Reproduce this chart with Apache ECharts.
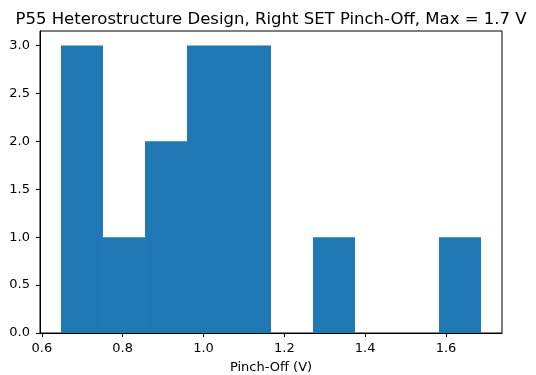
<!DOCTYPE html>
<html><head><meta charset="utf-8">
<script src="https://cdn.jsdelivr.net/npm/echarts@6/dist/echarts.min.js"></script>
<style>html,body{margin:0;padding:0;background:#fff}#c{width:536px;height:375px}</style>
</head><body><div id="c"></div>
<script>
// Histogram data
const binEdges = [0.6474, 0.7513, 0.8553, 0.9592, 1.0631, 1.1671, 1.2710, 1.3749, 1.4789, 1.5828, 1.6867];
const counts = [3, 1, 2, 3, 3, 0, 1, 0, 0, 1];
const xTicks = [0.6, 0.8, 1.0, 1.2, 1.4, 1.6];
const yTicks = [0, 0.5, 1.0, 1.5, 2.0, 2.5, 3.0];
const titleText = 'P55 Heterostructure Design, Right SET Pinch-Off, Max = 1.7 V';
const xName = 'Pinch-Off (V)';

const barData = counts.map((c, i) => [binEdges[i], binEdges[i + 1], c]);
const span = binEdges[binEdges.length - 1] - binEdges[0];
const xMin = binEdges[0] - 0.05 * span;
const xMax = binEdges[binEdges.length - 1] + 0.05 * span;
const yMax = Math.max(...counts) * 1.05;

const chart = echarts.init(document.getElementById('c'), null, {renderer: 'canvas'});
const font = 'DejaVu Sans';
chart.setOption({
  animation: false,
  backgroundColor: '#fff',
  title: {
    text: titleText, left: 266, textAlign: 'center', top: 6,
    textStyle: {fontFamily: font, fontSize: 16.5, fontWeight: 'normal', color: '#000'}
  },
  grid: {left: 40, right: 34, top: 31, bottom: 42, show: true, borderColor: '#000', borderWidth: 1,
    backgroundColor: 'transparent', containLabel: false, outerBoundsMode: 'none'},
  xAxis: {
    type: 'value', min: xMin, max: xMax,
    name: xName, nameLocation: 'middle', nameGap: 28,
    nameTextStyle: {fontFamily: font, fontSize: 13, color: '#000'},
    splitLine: {show: false},
    axisLine: {show: true, lineStyle: {color: '#000', width: 1}},
    axisTick: {show: true, length: 4, lineStyle: {color: '#000'}, customValues: xTicks},
    axisLabel: {fontFamily: font, fontSize: 13, color: '#000', margin: 9, customValues: xTicks,
      formatter: v => v.toFixed(1)}
  },
  yAxis: {
    type: 'value', min: 0, max: yMax,
    splitLine: {show: false},
    axisLine: {show: true, lineStyle: {color: '#000', width: 1}},
    axisTick: {show: true, length: 4, lineStyle: {color: '#000'}, customValues: yTicks},
    axisLabel: {fontFamily: font, fontSize: 13, color: '#000', margin: 10, customValues: yTicks,
      formatter: v => v.toFixed(1)}
  },
  series: [{
    type: 'custom',
    data: barData,
    renderItem: function (params, api) {
      const p0 = api.coord([api.value(0), api.value(2)]);
      const p1 = api.coord([api.value(1), 0]);
      return {
        type: 'rect',
        shape: {x: p0[0], y: p0[1], width: p1[0] - p0[0], height: p1[1] - p0[1]},
        style: {fill: '#1f77b4'}
      };
    },
    encode: {x: [0, 1], y: 2}
  }]
});
</script></body></html>
